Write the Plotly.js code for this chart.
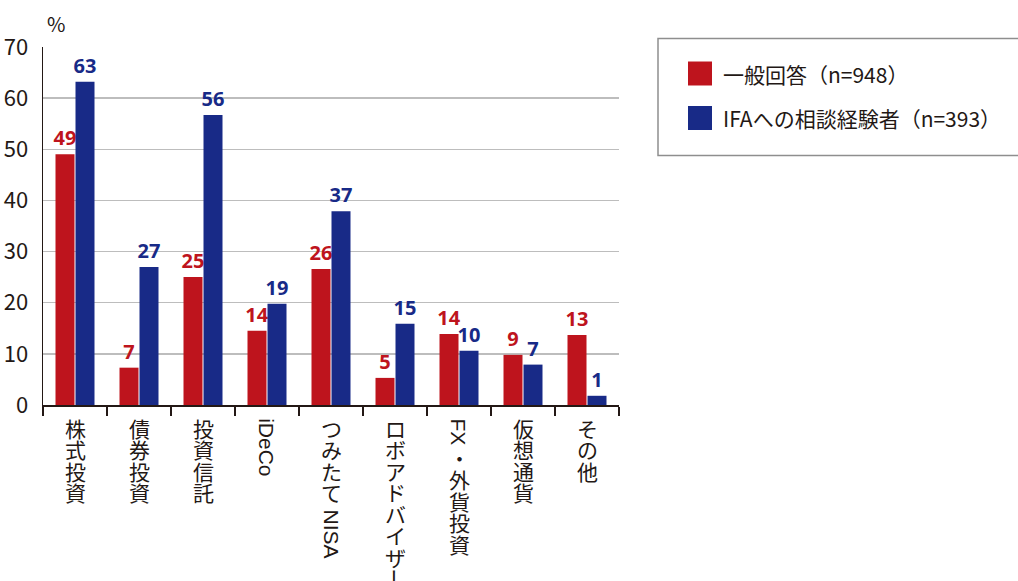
<!DOCTYPE html>
<html><head><meta charset="utf-8">
<script src="https://cdn.plot.ly/plotly-3.0.1.min.js"></script>
<style>html,body{margin:0;padding:0;background:#fff}</style>
</head><body><div id="chart" style="width:1018px;height:581px"></div>
<script>
const categories = ['株式投資','債券投資','投資信託','iDeCo','つみたて NISA','ロボアドバイザー','FX・外貨投資','仮想通貨','その他'];
const seriesNames = ['一般回答（n=948）','IFAへの相談経験者（n=393）'];
const generalValues = [49.05, 7.3, 25.05, 14.5, 26.6, 5.3, 13.9, 9.8, 13.7];
const ifaValues = [63.2, 27.0, 56.7, 19.8, 37.9, 15.9, 10.6, 7.9, 1.8];
const generalLabels = ['49','7','25','14','26','5','14','9','13'];
const ifaLabels = ['63','27','56','19','37','15','10','7','1'];
const yTicks = [0,10,20,30,40,50,60,70];
const yUnit = '%';

const RED = '#be141d', NAVY = '#182a87', INK = '#231815';
const L = 43, T = 47, W = 576, H = 358;
const px = x => (x - L) / W;
const py = y => (T + H - y) / H;

const xs = categories.map((c, i) => i);
const bounds = categories.map((c, i) => i - 0.5).concat([categories.length - 0.5]);

function bar(vals, labels, name, color) {
  return {
    type: 'bar', x: xs, y: vals, name: name, text: labels,
    textposition: 'outside', textangle: 0, constraintext: 'none', cliponaxis: false,
    texttemplate: '%{text}',
    textfont: {family: 'Noto Sans', size: 20, color: color, weight: 700},
    marker: {color: color}, hoverinfo: 'skip', showlegend: false
  };
}
const data = [
  bar(generalValues, generalLabels, seriesNames[0], RED),
  bar(ifaValues, ifaLabels, seriesNames[1], NAVY)
];

// vertical category labels (CJK upright, Latin runs rotated)
const cv = document.createElement('canvas').getContext('2d');
function tw(s, size, fam) { cv.font = size + 'px ' + fam; return cv.measureText(s).width; }
const annotations = [];
const CJK_SIZE = 21, LAT_SIZE = 21, PITCH = 21.5, LAT_FAM = 'Liberation Sans';
categories.forEach((lab, i) => {
  let cursor = 12;
  let latin = '';
  const flush = () => {
    if (!latin) return;
    const w = tw(latin, LAT_SIZE, LAT_FAM);
    annotations.push({x: i, xref: 'x', y: 0, yref: 'paper', yanchor: 'middle', xanchor: 'center',
      yshift: -(cursor + 1 + w / 2), text: latin, textangle: 90, showarrow: false, borderpad: 0,
      font: {family: LAT_FAM, size: LAT_SIZE, color: INK}});
    cursor += w + 3;
    latin = '';
  };
  for (const ch of lab) {
    if (/[A-Za-z0-9]/.test(ch)) { latin += ch; continue; }
    flush();
    if (ch === ' ') { cursor += 5; continue; }
    annotations.push({x: i, xref: 'x', y: 0, yref: 'paper', yanchor: 'middle', xanchor: 'center',
      yshift: -(cursor + PITCH / 2), text: ch, textangle: ch === 'ー' ? 90 : 0, showarrow: false, borderpad: 0,
      font: {family: 'Noto Sans CJK JP', size: CJK_SIZE, color: INK}});
    cursor += PITCH;
  }
  flush();
});

// unit label
annotations.push({x: px(45), xref: 'paper', y: py(23), yref: 'paper', xanchor: 'left', yanchor: 'middle',
  text: yUnit, showarrow: false, font: {family: 'Noto Sans CJK JP', size: 20, color: INK}});

// legend (manual)
const shapes = [
  {type: 'rect', xref: 'paper', yref: 'paper', x0: px(658), x1: px(1040), y0: py(38.5), y1: py(155.5),
   line: {color: '#8e8e8e', width: 1.5}, fillcolor: 'rgba(0,0,0,0)'}
];
const legendRows = [{name: seriesNames[0], color: RED, cy: 73.5}, {name: seriesNames[1], color: NAVY, cy: 118}];
legendRows.forEach(r => {
  shapes.push({type: 'rect', xref: 'paper', yref: 'paper', x0: px(688), x1: px(712), y0: py(r.cy - 12), y1: py(r.cy + 12),
    line: {width: 0}, fillcolor: r.color});
  annotations.push({x: px(721), xref: 'paper', y: py(r.cy), yref: 'paper', xanchor: 'left', yanchor: 'middle',
    text: r.name, showarrow: false, font: {family: 'Noto Sans CJK JP', size: 21, color: INK}});
});

const layout = {
  width: 1018, height: 581,
  margin: {l: L, r: 1018 - L - W, t: T, b: 581 - T - H, pad: 0},
  paper_bgcolor: '#fff', plot_bgcolor: '#fff',
  barmode: 'group', bargap: 0.375, bargroupgap: 0.05,
  showlegend: false,
  xaxis: {range: [-0.5, categories.length - 0.5], tickmode: 'array', tickvals: bounds, showticklabels: false,
    ticks: 'outside', ticklen: 9, tickwidth: 1.2, tickcolor: INK, showgrid: false, zeroline: false,
    showline: true, linecolor: INK, linewidth: 1.5, fixedrange: true},
  yaxis: {range: [0, 70], tickmode: 'array', tickvals: yTicks, ticktext: yTicks.map(String),
    showgrid: true, gridcolor: '#bdbdbd', gridwidth: 1.5, zeroline: false,
    showline: true, linecolor: INK, linewidth: 1.5, ticks: '', ticklabelstandoff: 9,
    tickfont: {family: 'Noto Sans CJK JP', size: 22, color: INK}, fixedrange: true},
  annotations: annotations,
  shapes: shapes,
  font: {family: 'Noto Sans CJK JP', color: INK}
};
Plotly.newPlot('chart', data, layout, {displayModeBar: false, staticPlot: true});
</script></body></html>
